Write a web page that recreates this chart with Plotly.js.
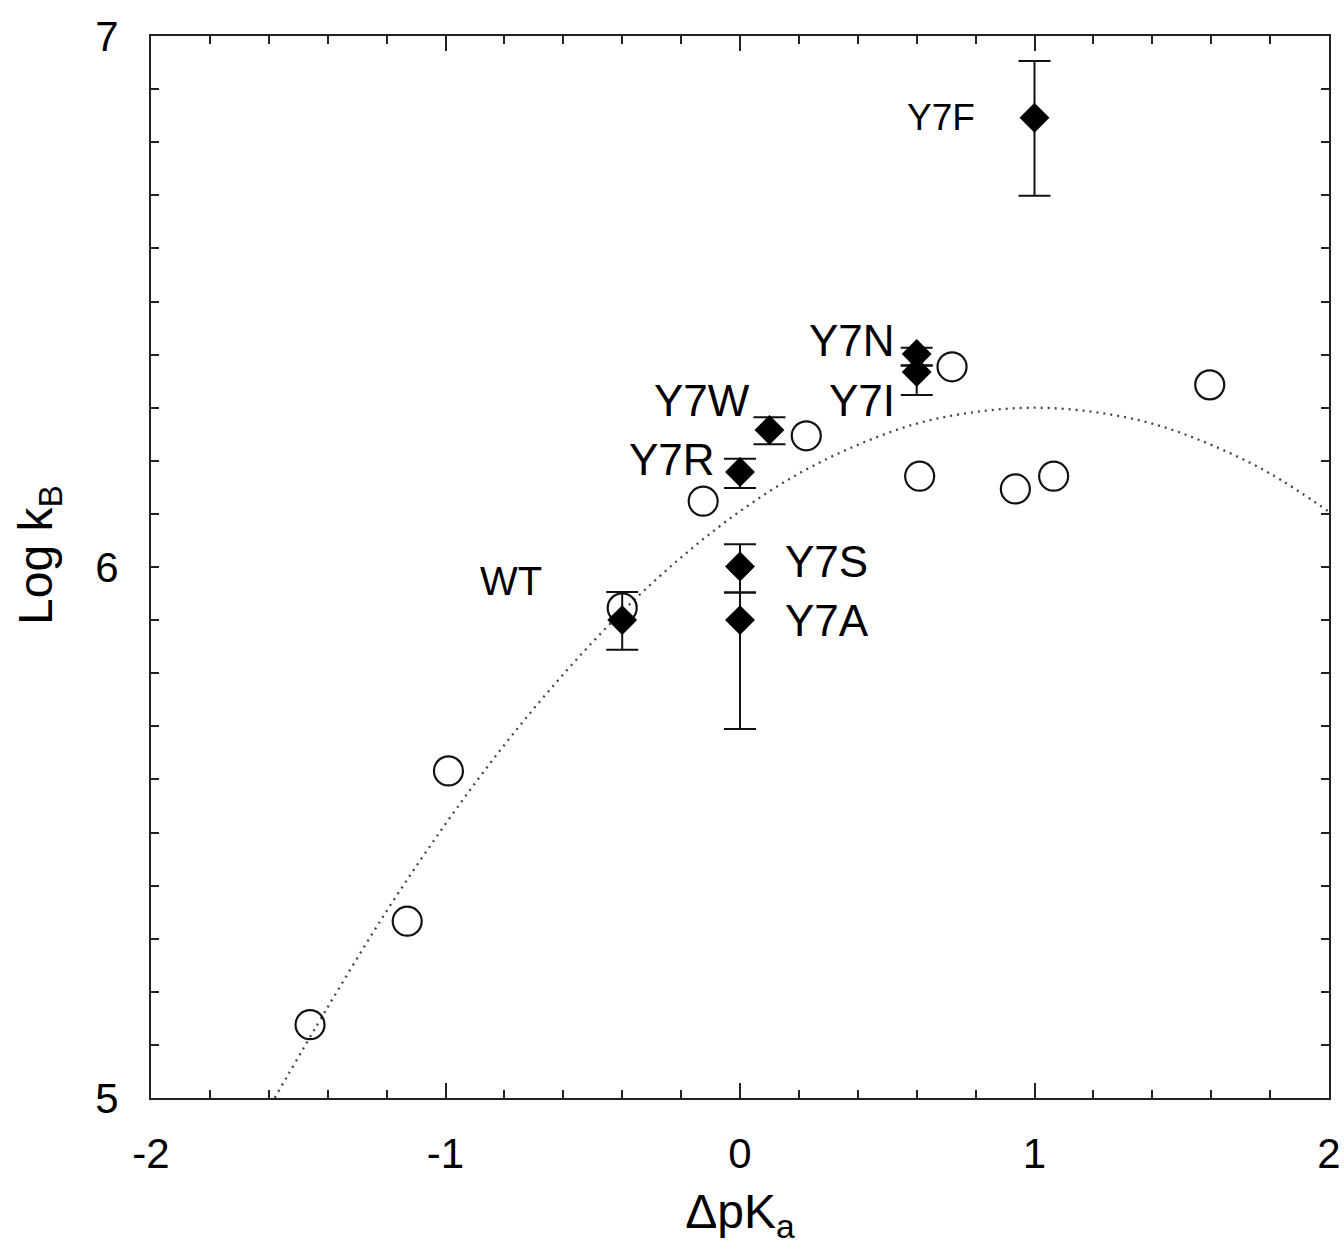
<!DOCTYPE html>
<html>
<head>
<meta charset="utf-8">
<script src="https://cdn.plot.ly/plotly-3.0.1.min.js"></script>
<style>html,body{margin:0;padding:0;background:#fff;}#chart{width:1344px;height:1256px;}</style>
</head>
<body>
<div id="chart"></div>
<script>
// Open circles (reference set)
const circleX = [-1.46, -1.13, -0.99, -0.40, -0.125, 0.225, 0.61, 0.72, 0.935, 1.065, 1.595];
const circleY = [5.138, 5.333, 5.616, 5.923, 6.124, 6.247, 6.171, 6.377, 6.147, 6.171, 6.343];

// Mutants (filled diamonds with error bars)
const mutantNames = ["Y7F", "Y7N", "Y7I", "Y7W", "Y7R", "WT", "Y7S", "Y7A"];
const mutantX = [1.0, 0.6, 0.6, 0.1, 0.0, -0.4, 0.0, 0.0];
const mutantY = [6.846, 6.401, 6.367, 6.258, 6.179, 5.900, 6.001, 5.900];
const errPlus = [0.107, 0.012, 0.012, 0.024, 0.025, 0.053, 0.042, 0.052];
const errMinus = [0.147, 0.021, 0.043, 0.027, 0.030, 0.056, 0.049, 0.205];

// Dotted fit curve
const curveX = [-1.58, -1.4, -1.2, -1.0, -0.8, -0.6, -0.4, -0.2, 0.0, 0.2, 0.4, 0.6, 0.8, 1.0, 1.2, 1.4, 1.6, 1.8, 2.0];
const curveY = [5.000, 5.171, 5.352, 5.516, 5.665, 5.798, 5.916, 6.018, 6.105, 6.176, 6.230, 6.270, 6.292, 6.300, 6.292, 6.270, 6.230, 6.176, 6.104];

// Tick labels
const xTickVals = [-2, -1, 0, 1, 2];
const xTickText = ["-2", "-1", "0", "1", "2"];
const yTickVals = [5, 6, 7];
const yTickText = ["5", "6", "7"];

const FONT = "Arial, 'Liberation Sans', sans-serif";

const traces = [
  {
    x: curveX, y: curveY, type: "scatter", mode: "lines",
    line: {color: "#444", width: 2.3, dash: "2px,5px", shape: "spline"},
    hoverinfo: "skip", showlegend: false
  },
  {
    x: circleX, y: circleY, type: "scatter", mode: "markers",
    marker: {symbol: "circle-open", size: 29, color: "#111", line: {width: 2.2, color: "#111"}},
    showlegend: false
  },
  {
    x: mutantX, y: mutantY, type: "scatter", mode: "markers",
    text: mutantNames,
    marker: {symbol: "diamond", size: 23, color: "#000"},
    error_y: {type: "data", symmetric: false, array: errPlus, arrayminus: errMinus,
              color: "#111", thickness: 2, width: 16},
    showlegend: false
  }
];

// label placement offsets (pixels) relative to each mutant point
const labelStyle = {
  "Y7F": {xanchor: "right", xshift: -58, yshift: 0, size: 37},
  "Y7N": {xanchor: "right", xshift: -20, yshift: 14, size: 44},
  "Y7I": {xanchor: "right", xshift: -20, yshift: -28, size: 44},
  "Y7W": {xanchor: "right", xshift: -17, yshift: 30, size: 44},
  "Y7R": {xanchor: "right", xshift: -23, yshift: 12, size: 44},
  "WT":  {xanchor: "right", xshift: -78, yshift: 39, size: 40},
  "Y7S": {xanchor: "left",  xshift: 43,  yshift: 5, size: 44},
  "Y7A": {xanchor: "left",  xshift: 43,  yshift: 0, size: 44}
};

const annotations = mutantNames.map((n, i) => {
  const s = labelStyle[n];
  return {
    x: mutantX[i], y: mutantY[i], xref: "x", yref: "y",
    text: n, showarrow: false, xanchor: s.xanchor, yanchor: "middle",
    xshift: s.xshift, yshift: s.yshift,
    font: {family: FONT, size: s.size, color: "#000"}
  };
});

// y-axis title as a rotated annotation for exact placement
annotations.push({
  xref: "paper", yref: "paper", x: 0, y: 0.5, xshift: -112, yshift: 12,
  text: "Log k<sub>B</sub>", showarrow: false, textangle: -90,
  xanchor: "center", yanchor: "middle",
  font: {family: FONT, size: 48, color: "#000"}
});

const axisCommon = {
  showgrid: false, zeroline: false, showline: true, linecolor: "#222", linewidth: 2,
  mirror: "allticks", ticks: "inside", tickcolor: "#222", tickwidth: 2,
  tickfont: {family: FONT, size: 42, color: "#000"}
};

const layout = {
  width: 1344, height: 1256,
  margin: {l: 151, r: 15, t: 36, b: 158},
  paper_bgcolor: "#fff", plot_bgcolor: "#fff",
  showlegend: false,
  xaxis: Object.assign({}, axisCommon, {
    range: [-2, 2], tickmode: "array", tickvals: xTickVals, ticktext: xTickText, ticklen: 15,
    ticklabelstandoff: 18,
    minor: {dtick: 0.2, tick0: -2, ticks: "inside", ticklen: 8, tickcolor: "#222", tickwidth: 2, showgrid: false},
    title: {text: "ΔpK<sub>a</sub>", font: {family: FONT, size: 48, color: "#000"}, standoff: 18}
  }),
  yaxis: Object.assign({}, axisCommon, {
    range: [5, 7], tickmode: "array", tickvals: yTickVals, ticktext: yTickText, ticklen: 8,
    ticklabelstandoff: 22,
    minor: {dtick: 0.1, tick0: 5, ticks: "inside", ticklen: 8, tickcolor: "#222", tickwidth: 2, showgrid: false},
    title: {text: ""}
  }),
  annotations: annotations
};

Plotly.newPlot("chart", traces, layout, {displayModeBar: false, staticPlot: true});
</script>
</body>
</html>
